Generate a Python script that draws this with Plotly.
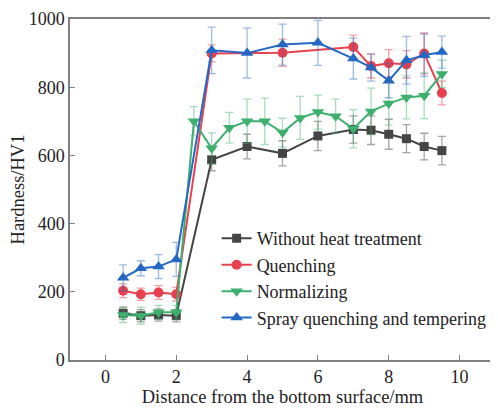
import plotly.graph_objects as go

# Data
x_blk = [0.5, 1, 1.5, 2, 3, 4, 5, 6, 7, 7.5, 8, 8.5, 9, 9.5]
y_blk = [137, 130, 132, 130, 587, 626, 606, 657, 676, 674, 662, 649, 626, 614]
e_blk = [18, 18, 18, 18, 32, 36, 37, 43, 40, 42, 44, 41, 39, 42]

x_red = [0.5, 1, 1.5, 2, 3, 5, 7, 7.5, 8, 8.5, 9, 9.5]
y_red = [203, 193, 198, 193, 899, 901, 918, 862, 870, 867, 899, 783]
e_red = [20, 18, 20, 20, 25, 40, 35, 35, 40, 40, 60, 35]

x_grn = [0.5, 1, 1.5, 2, 2.5, 3, 3.5, 4, 4.5, 5, 5.5, 6, 6.5, 7, 7.5, 8, 8.5, 9, 9.5]
y_grn = [132, 130, 140, 140, 700, 621, 681, 700, 700, 667, 710, 727, 715, 678, 729, 752, 770, 775, 839]
e_grn = [22, 25, 20, 20, 43, 45, 45, 65, 68, 42, 63, 50, 50, 56, 68, 63, 63, 67, 40]

x_blu = [0.5, 1, 1.5, 2, 3, 4, 5, 6, 7, 7.5, 8, 8.5, 9, 9.5]
y_blu = [241, 269, 274, 295, 908, 900, 925, 930, 884, 858, 819, 879, 894, 903]
e_blu = [38, 22, 35, 50, 68, 73, 60, 66, 60, 40, 50, 70, 62, 47]

names = ["Without heat treatment", "Quenching", "Normalizing", "Spray quenching and tempering"]
colors = ["#454545", "#e8404f", "#3db06e", "#2468c4"]
ecolors = ["rgba(90,90,90,0.55)", "rgba(232,64,79,0.5)", "rgba(61,176,110,0.45)", "rgba(36,104,196,0.45)"]
symbols = ["square", "circle", "triangle-down", "triangle-up"]
sizes = [9, 10, 11, 11]

fig = go.Figure()
for xs, ys, es, n, c, ec, s, sz in zip(
    [x_blk, x_red, x_grn, x_blu],
    [y_blk, y_red, y_grn, y_blu],
    [e_blk, e_red, e_grn, e_blu],
    names, colors, ecolors, symbols, sizes):
    fig.add_trace(go.Scatter(
        x=xs, y=ys, name=n, mode="lines+markers",
        line=dict(color=c, width=2),
        marker=dict(symbol=s, size=sz, color=c),
        error_y=dict(type="data", array=es, visible=True, color=ec, thickness=1.3, width=4),
    ))

font_family = "Liberation Serif"
axis_common = dict(
    showline=True, linecolor="#7f7f7f", linewidth=1.5, mirror=True,
    ticks="inside", ticklen=5, tickcolor="#7f7f7f", tickwidth=1.2,
    showgrid=False, zeroline=False, ticklabeloverflow="allow",
    tickfont=dict(family=font_family, size=18, color="#222"),
)
fig.update_xaxes(range=[-1, 11], tickvals=[0, 2, 4, 6, 8, 10],
                 title=dict(text="Distance from the bottom surface/mm",
                            font=dict(family=font_family, size=18.5, color="#222"), standoff=4),
                 **axis_common)
fig.update_yaxes(range=[0, 1000], tickvals=[0, 200, 400, 600, 800, 1000],
                 title=dict(text="Hardness/HV1",
                            font=dict(family=font_family, size=18.5, color="#222"), standoff=6),
                 **axis_common)

fig.update_layout(
    width=490, height=401,
    margin=dict(l=62, r=1, t=7, b=49),
    font=dict(family=font_family),
    paper_bgcolor="white", plot_bgcolor="white",
    showlegend=True,
    legend=dict(x=0.345, y=0.24, xanchor="left", yanchor="middle",
                font=dict(family=font_family, size=18, color="#222"),
                bgcolor="rgba(0,0,0,0)", tracegroupgap=0, itemwidth=30),
)

fig.write_html("out.html")
